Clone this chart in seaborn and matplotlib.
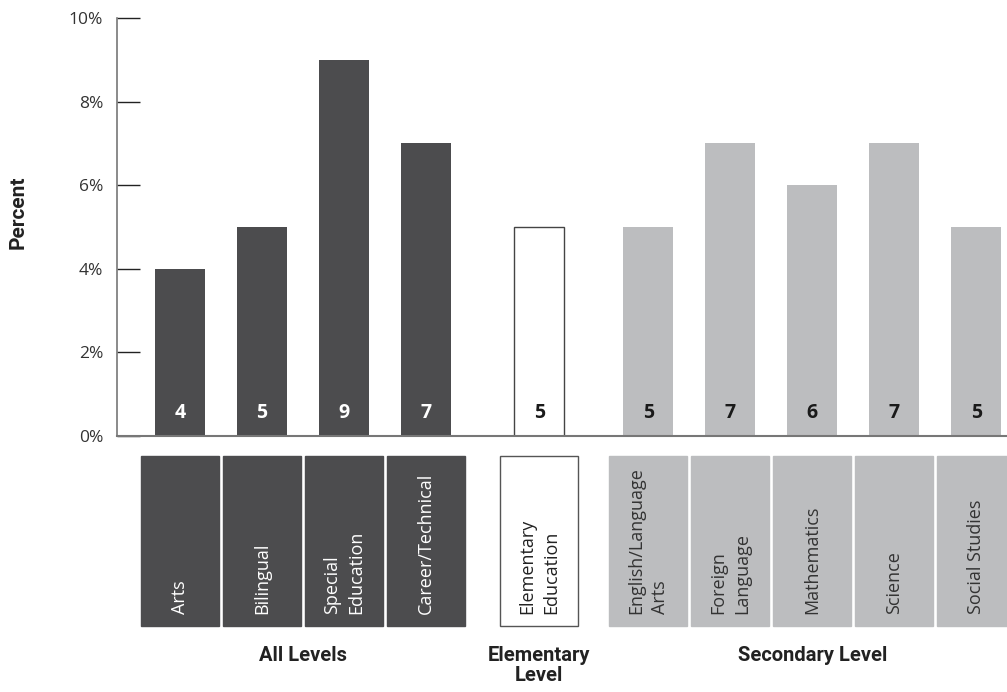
import matplotlib
matplotlib.use("Agg")
import matplotlib.pyplot as plt
import matplotlib.transforms as mtransforms
from matplotlib.patches import Rectangle
import seaborn as sns
import pandas as pd

# Subjects, grouped by certification level
all_levels = ["Arts", "Bilingual", "Special\nEducation", "Career/Technical"]
elementary = ["Elementary\nEducation"]
secondary = ["English/Language\nArts", "Foreign\nLanguage", "Mathematics", "Science", "Social Studies"]

all_values = [4, 5, 9, 7]
elem_values = [5]
sec_values = [5, 7, 6, 7, 5]

group_names = ["All Levels", "Elementary\nLevel", "Secondary Level"]
y_ticks = [0, 2, 4, 6, 8, 10]

DARK = "#4c4c4e"
LIGHT = "#bcbdbf"
WHITE = "#ffffff"

sns.set_theme(style="white")
plt.rcParams["font.family"] = ["Open Sans", "DejaVu Sans"]

HEAD_FONT = dict(family=["Roboto", "DejaVu Sans"], fontweight="bold")

groups = [all_levels, elementary, secondary]
values = [all_values, elem_values, sec_values]
gap_offsets = [0.0, 0.38, 0.71]

rows = []
idx = 0
for subs, vals, off, gname in zip(groups, values, gap_offsets, group_names):
    for s, v in zip(subs, vals):
        rows.append({"subject": s, "percent": v, "level": gname, "pos": idx + off})
        idx += 1
df = pd.DataFrame(rows)

palette = {group_names[0]: DARK, group_names[1]: WHITE, group_names[2]: LIGHT}
text_colors = {group_names[0]: "white", group_names[1]: "#1a1a1a", group_names[2]: "#1a1a1a"}
box_text_colors = {group_names[0]: "white", group_names[1]: "#222222", group_names[2]: "#333333"}

fig = plt.figure(figsize=(10.07, 6.92), dpi=100)
ax = fig.add_axes([117 / 1007, 1 - 436 / 692, (1007 - 117) / 1007, 418 / 692])

sns.barplot(data=df, x="pos", y="percent", hue="level", palette=palette,
            native_scale=True, dodge=False, width=50 / 82, legend=False,
            linewidth=0, ax=ax)

for p in ax.patches:
    fc = p.get_facecolor()
    if fc[0] > 0.99 and fc[1] > 0.99 and fc[2] > 0.99:
        p.set_edgecolor("#444444")
        p.set_linewidth(1.0)

ax.set_xlim(-0.768, 10.085)
ax.set_ylim(0, 10)
ax.set_yticks(y_ticks)
ax.set_yticklabels([f"{t}%" for t in y_ticks], fontsize=12.5, color="#333333")
ax.set_xticks([])
ax.set_xlabel("")
ax.set_ylabel("Percent", fontsize=15, color="#222222", **HEAD_FONT)
ax.yaxis.set_label_coords((28 - 117) / 890, (436 - 212) / 418)
ax.tick_params(axis="y", direction="in", length=16.5, width=1, color="#222222", pad=10, left=True)
for side in ["top", "right"]:
    ax.spines[side].set_visible(False)
ax.spines["left"].set_color("#777777")
ax.spines["left"].set_linewidth(1.2)
ax.spines["bottom"].set_color("#777777")
ax.spines["bottom"].set_linewidth(1.5)

# Value labels at the base of each bar
for _, r in df.iterrows():
    ax.text(r["pos"], 0.55, f"{r['percent']}", ha="center", va="center", fontsize=14,
            fontweight="bold", color=text_colors[r["level"]])

# Category boxes beneath the axis
trans = mtransforms.blended_transform_factory(ax.transData, fig.transFigure)
box_w = 78 / 82
y_top = 1 - 456 / 692
y_bot = 1 - 626 / 692
for _, r in df.iterrows():
    fc = palette[r["level"]]
    ec = "#555555" if fc == WHITE else fc
    rect = Rectangle((r["pos"] - box_w / 2, y_bot), box_w, y_top - y_bot, transform=trans,
                     facecolor=fc, edgecolor=ec, linewidth=1.0, clip_on=False, zorder=2)
    ax.add_patch(rect)
    ax.text(r["pos"], 1 - 614 / 692, r["subject"], transform=trans, rotation=90,
            ha="center", va="bottom", multialignment="left", fontsize=13,
            color=box_text_colors[r["level"]], linespacing=1.4, clip_on=False, zorder=4)

# Group titles
for gname in group_names:
    sub = df[df["level"] == gname]
    center = (sub["pos"].min() + sub["pos"].max()) / 2
    ax.text(center, 1 - 646 / 692, gname, transform=trans, ha="center", va="top",
            fontsize=14.5, color="#222222", linespacing=1.05, clip_on=False, **HEAD_FONT)

fig.savefig("out.png", dpi=100, facecolor="white")
